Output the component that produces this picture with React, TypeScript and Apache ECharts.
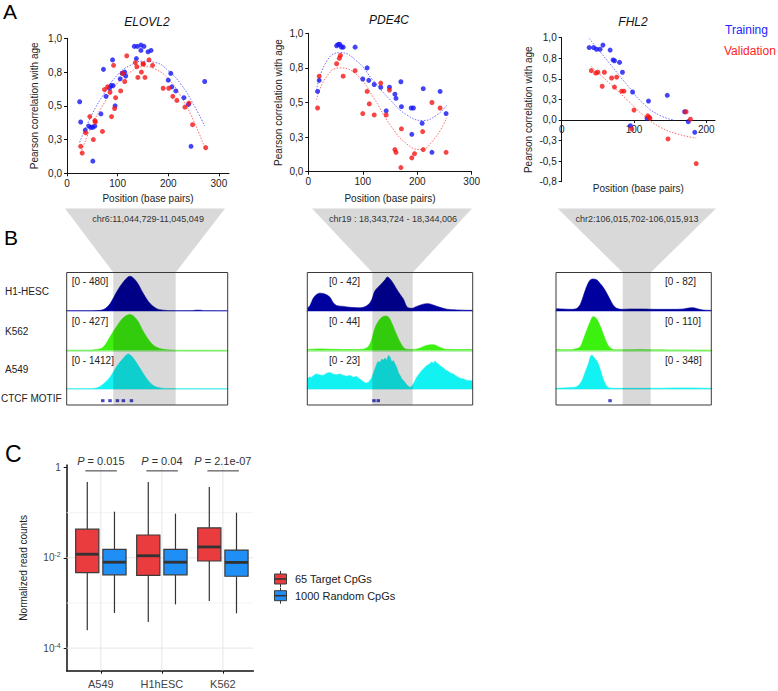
import React, { useEffect, useRef } from "react";
import * as echarts from "echarts";

const FONT = '"Liberation Sans", Arial, Helvetica, sans-serif';

// ---------------- Panel A data (position in bp, Pearson r) ----------------
const elovl2Training = [[25,0.53],[27,0.38],[36,0.32],[43,0.35],[47,0.34],[51,0.34],[55,0.35],[51,0.09],[67,0.44],[72,0.77],[77,0.57],[84,0.63],[87,0.65],[91,0.65],[90,0.84],[95,0.5],[105,0.7],[109,0.74],[114,0.75],[116,0.72],[133,0.94],[139,0.94],[146,0.95],[152,0.94],[146,0.91],[160,0.9],[166,0.91],[137,0.85],[205,0.74],[200,0.69],[207,0.64],[215,0.61],[231,0.56],[240,0.51],[245,0.2],[272,0.68]];
const elovl2Validation = [[27,0.2],[30,0.15],[37,0.3],[45,0.42],[52,0.25],[55,0.39],[56,0.38],[70,0.31],[74,0.62],[80,0.64],[85,0.6],[88,0.42],[92,0.8],[94,0.48],[96,0.56],[106,0.61],[110,0.74],[114,0.68],[118,0.87],[135,0.82],[138,0.79],[140,0.71],[147,0.75],[150,0.81],[151,0.81],[154,0.71],[162,0.84],[169,0.8],[190,0.63],[201,0.63],[209,0.57],[217,0.54],[233,0.49],[241,0.52],[248,0.36],[274,0.19]];
const elovl2TrainingFit = [[25,0.23],[50,0.44],[75,0.6],[100,0.73],[125,0.8],[150,0.83],[175,0.82],[200,0.76],[225,0.66],[250,0.51],[272,0.35]];
const elovl2ValidationFit = [[27,0.15],[50,0.36],[75,0.53],[100,0.67],[125,0.75],[150,0.79],[175,0.77],[200,0.7],[225,0.57],[250,0.39],[274,0.17]];

const pde4cTraining = [[17,0.58],[20,0.66],[52,0.91],[55,0.92],[58,0.92],[61,0.9],[64,0.9],[86,0.9],[100,0.67],[108,0.75],[111,0.66],[121,0.63],[133,0.61],[149,0.61],[159,0.56],[161,0.53],[143,0.44],[170,0.65],[171,0.47],[189,0.46],[193,0.46],[190,0.27],[209,0.35],[211,0.6],[227,0.14],[242,0.58],[253,0.42]];
const pde4cValidation = [[17,0.46],[20,0.69],[52,0.78],[57,0.82],[59,0.84],[64,0.69],[86,0.73],[100,0.42],[108,0.58],[112,0.49],[121,0.41],[133,0.64],[149,0.59],[143,0.41],[171,0.31],[159,0.16],[161,0.14],[170,0.03],[190,0.1],[195,0.13],[210,0.29],[211,0.16],[227,0.5],[242,0.46],[253,0.14]];
const pde4cTrainingFit = [[15,0.59],[34,0.8],[58,0.86],[89,0.8],[119,0.66],[150,0.52],[181,0.41],[211,0.37],[236,0.41],[254,0.48]];
const pde4cValidationFit = [[15,0.52],[34,0.69],[58,0.75],[89,0.7],[119,0.54],[150,0.34],[181,0.2],[205,0.16],[230,0.23],[254,0.39]];

const fhl2Training = [[38,0.88],[44,0.88],[48,0.86],[53,0.86],[57,0.91],[67,0.85],[71,0.73],[73,0.72],[80,0.7],[84,0.58],[98,0.34],[95,-0.07],[120,0.23],[118,0.02],[146,0.3],[170,0.1],[175,-0.02],[184,-0.15]];
const fhl2Validation = [[41,0.6],[47,0.57],[50,0.58],[56,0.41],[59,0.58],[69,0.51],[73,0.4],[76,0.52],[83,0.35],[86,0.35],[100,0.12],[97,-0.11],[119,0.05],[121,0.03],[122,0.02],[147,-0.23],[172,0.1],[178,0.01],[186,-0.53]];
const fhl2TrainingFit = [[38,0.99],[67,0.68],[91,0.42],[114,0.19],[137,0.05],[156,0.0]];
const fhl2ValidationFit = [[41,0.65],[67,0.44],[91,0.24],[114,0.05],[137,-0.09],[160,-0.17],[186,-0.22]];

const geneNames = ["ELOVL2", "PDE4C", "FHL2"];
const positionTicks = [[0, 100, 200, 300], [0, 100, 200, 300], [0, 100, 200]];
const positionMax = [320, 300, 212];
const correlationLimits = [[0, 1], [0, 1], [-0.75, 1]];

// ---------------- Panel B data (relative position in window 0-100, signal) ----------------
const cellLines = ["H1-HESC", "K562", "A549"];
const regionLabels = ["chr6:11,044,729-11,045,049", "chr19 : 18,343,724 - 18,344,006", "chr2:106,015,702-106,015,913"];
const elovl2Ranges = [480, 427, 1412];
const pde4cRanges = [42, 44, 23];
const fhl2Ranges = [82, 110, 348];

const elovl2H1 = [[0,4],[16,4],[21,8],[24,30],[27,92],[31,238],[35.2,363],[39.3,434],[43.5,363],[47.6,217],[51.8,92],[55.9,29],[60,10],[66,4],[78,4],[80,10],[83,10],[85,4],[100,3]];
const elovl2K562 = [[0,3],[12,3],[18.6,10],[22.8,37],[27,150],[31,260],[35.2,355],[39.3,390],[43.5,335],[47.6,205],[51.8,94],[55.9,34],[62,8],[70,3],[100,2]];
const elovl2A549 = [[0,6],[12,8],[18.6,40],[22.8,185],[27,440],[31,820],[35.2,1130],[38.3,1285],[41.4,1130],[45.5,760],[49.7,380],[53.8,125],[58,40],[65,10],[100,5]];
const elovl2Ctcf = [22.4, 26.9, 31.5, 35.2, 40.2];

const pde4cH1 = [[0,3],[1.6,6],[3.6,14],[5.6,18],[7.7,19.5],[10.7,18.5],[13.7,15],[15.7,9],[17.7,6],[21.8,5],[25.8,4],[30.8,3.5],[33.9,4],[36.9,7],[38.9,12],[40.9,22],[44,28],[47,34],[48.4,37],[50,35],[52,30],[55,21],[58.1,13],[60.5,4],[63.1,3],[66.1,5],[70.2,7.5],[73.2,8],[76.2,6.5],[80.2,4],[84.3,2],[90.3,1.2],[96.4,0.8],[100,0.7]];
const pde4cK562 = [[0,1.1],[7.7,1.8],[15.7,1.3],[25.8,1.1],[33.9,1.5],[36.9,4.4],[38.9,12],[40.9,25],[44,35],[47,38.3],[49,37.4],[51,31],[54,17.6],[57,6.4],[59.7,1.5],[64,1.1],[68,2.6],[72,5.7],[76.2,6.4],[80.2,3.4],[84.3,1.3],[90.3,1.1],[100,1.1]];
const pde4cA549 = [[0,6],[1.3,7.2],[2.6,6.9],[4,8.2],[5.6,9],[7.5,8.4],[9.7,8.1],[11.7,9.4],[13.7,9.9],[15.7,8.8],[17.7,8.5],[19.7,9],[21.8,8.1],[23.8,7.6],[25.8,8.1],[27.8,7],[29.8,7.4],[31.9,5.8],[33.9,4.4],[35.4,3.5],[36.9,3.9],[38.9,6.5],[40.9,12],[42,15],[42.9,16.5],[44,15.8],[45,17.9],[46,17.2],[47,18.5],[48,17],[49,20],[50,19.2],[51,16.1],[52,17],[53,15],[54,13],[55,9.9],[56,8.2],[57.1,6],[58.5,4.6],[60.1,2.5],[62.1,0.9],[63,1.5],[64.1,3],[66.1,6.9],[67.5,8.8],[69.2,11],[70.5,12.2],[72.2,14],[73.5,14.6],[75.2,16.1],[76.2,15.4],[77.2,16.8],[78.2,15.6],[79.2,14.9],[80.5,13.8],[82.3,12.6],[83.8,11.2],[85.3,10.5],[86.8,9.4],[88.3,9],[89.8,7.8],[91.3,7],[92.8,6.2],[94.4,6],[96,5.3],[97.4,5.1],[100,4.8]];
const pde4cCtcf = [40.3, 42.9];

const fhl2H1 = [[0,4.9],[4.7,4.2],[9,3.5],[12.2,4.1],[15,10.7],[17.2,27.9],[19.3,48.4],[21.5,64],[23.6,68.1],[26.2,66.4],[28.3,59],[30.5,50],[32.6,38.5],[34.8,24.6],[36.9,12.3],[39.1,5.7],[42.3,3.5],[47.6,4.2],[56.2,4.2],[64.8,3.5],[73.4,3.5],[82,4.2],[85.2,6.2],[88.4,7],[91.6,4.2],[94.8,2],[100,1.4]];
const fhl2K562 = [[0,2.8],[9,2],[12.2,4.4],[15.5,9.9],[17.6,30.8],[19.7,55],[21.9,79],[24,94.6],[26.2,88],[28.3,69.3],[30.5,45.1],[32.6,22],[34.8,7.7],[38,2],[47.6,2],[54.1,2.8],[60.5,2],[100,1]];
const fhl2A549 = [[0,6.3],[9,12.5],[13.3,20.9],[16.5,69.6],[18.7,149.6],[20.8,226.2],[22.96,306],[25.1,275],[27.3,226],[29.4,132],[31.5,52],[33.7,12.5],[36.9,6.3],[60.5,6.3],[82,9.5],[100,6.3]];
const fhl2Ctcf = [34.8];

// ---------------- Panel C data (normalized read counts) ----------------
const cellLinesC = ["A549", "H1hESC", "K562"];
const targetMin = [2.5e-4, 3.8e-4, 1.1e-3];
const targetQ1 = [4.7e-3, 4.1e-3, 8.5e-3];
const targetMedian = [1.2e-2, 1.11e-2, 1.74e-2];
const targetQ3 = [4.3e-2, 3.2e-2, 4.6e-2];
const targetMax = [0.48, 0.48, 0.37];
const randomMin = [6.0e-4, 9.3e-4, 5.9e-4];
const randomQ1 = [4.2e-3, 4.2e-3, 3.9e-3];
const randomMedian = [8.0e-3, 8.0e-3, 7.9e-3];
const randomQ3 = [1.53e-2, 1.53e-2, 1.48e-2];
const randomMax = [0.105, 0.095, 0.1];
const pValues = ["0.015", "0.04", "2.1e-07"];
const readCountTicks = [1e-4, 1e-2, 1];
const readCountMinorBreaks = [1e-3, 1e-1];

// ---------------- layout / style constants ----------------
const BLUE = "#1515f5";
const RED = "#f51515";
const trackColors = ["#00009e", "#3cf00f", "#12f2f2"];
const baselineColors = ["#a8a8e6", "#a6eea0", "#a6eeee"];
const SHADE = "rgba(0,0,0,0.15)";

function txt(x: number, y: number, text: string, o: any = {}) {
  const align = o.align || "left";
  const va = o.va || "middle";
  return {
    type: "text",
    x,
    y,
    z: o.z ?? 20,
    rotation: o.rotation || 0,
    style: {
      text,
      fill: o.fill || "#222",
      fontSize: o.fontSize || 10,
      fontFamily: FONT,
      fontStyle: o.italic ? "italic" : "normal",
      align,
      textAlign: align,
      verticalAlign: va,
      textVerticalAlign: va,
      rich: o.rich,
    },
  };
}

function buildOption() {
  const grid: any[] = [];
  const xAxis: any[] = [];
  const yAxis: any[] = [];
  const series: any[] = [];
  const graphic: any[] = [];
  const axisFont = { fontFamily: FONT, fontSize: 10, color: "#222" };

  // ---------- Panel A ----------
  const aGrids = [
    { left: 67, top: 38.3, width: 162, height: 135 },
    { left: 308.3, top: 33.3, width: 163.4, height: 138.4 },
    { left: 561.7, top: 37.7, width: 153.3, height: 144 },
  ];
  const yNameGap = [28, 25, 28];
  const xNameGap = [20, 22, 64];
  const sets = [
    [elovl2Training, elovl2Validation, elovl2TrainingFit, elovl2ValidationFit],
    [pde4cTraining, pde4cValidation, pde4cTrainingFit, pde4cValidationFit],
    [fhl2Training, fhl2Validation, fhl2TrainingFit, fhl2ValidationFit],
  ];
  aGrids.forEach((g, i) => {
    const gi = grid.length;
    grid.push({ ...g, outerBoundsMode: "none", containLabel: false });
    const [lo, hi] = correlationLimits[i];
    // place the position axis where r = 0
    const zeroOffset = lo < 0 ? -(-lo / (hi - lo)) * g.height : 0;
    xAxis.push({
      gridIndex: gi, type: "value", min: 0, max: positionMax[i], offset: zeroOffset,
      name: "Position (base pairs)", nameLocation: "middle", nameGap: xNameGap[i], nameMoveOverlap: false,
      nameTextStyle: { ...axisFont, fontSize: 10 },
      axisLine: { show: true, onZero: false, lineStyle: { color: "#111", width: 1 } },
      axisTick: { show: true, length: 3, customValues: positionTicks[i], lineStyle: { color: "#111" } },
      axisLabel: { customValues: positionTicks[i], ...axisFont, margin: 5 },
      splitLine: { show: false },
    });
    yAxis.push({
      gridIndex: gi, type: "value", min: lo, max: hi, interval: 0.25,
      name: "Pearson correlation with age", nameLocation: "middle", nameGap: yNameGap[i], nameMoveOverlap: false,
      nameTextStyle: { ...axisFont, fontSize: 10 },
      axisLine: { show: true, onZero: false, lineStyle: { color: "#111", width: 1 } },
      axisTick: { show: true, length: 3, lineStyle: { color: "#111" } },
      axisLabel: { ...axisFont, margin: 5, formatter: (v: number) => v.toFixed(1).replace(".", ",") },
      splitLine: { show: false },
    });
    const [tr, va, trFit, vaFit] = sets[i];
    series.push(
      { type: "line", name: "Training fit", xAxisIndex: gi, yAxisIndex: gi, data: trFit, smooth: true, showSymbol: false, silent: true, z: 2, lineStyle: { type: [1.5, 1.5], width: 0.9, color: "#5a5aff" } },
      { type: "line", name: "Validation fit", xAxisIndex: gi, yAxisIndex: gi, data: vaFit, smooth: true, showSymbol: false, silent: true, z: 2, lineStyle: { type: [1.5, 1.5], width: 0.9, color: "#ff5a5a" } },
      { type: "scatter", name: "Training", xAxisIndex: gi, yAxisIndex: gi, data: tr, symbolSize: 5, z: 3, itemStyle: { color: BLUE } },
      { type: "scatter", name: "Validation", xAxisIndex: gi, yAxisIndex: gi, data: va, symbolSize: 5, z: 3, itemStyle: { color: RED } },
    );
  });
  const titlePos = [[147, 22], [389, 20], [633, 22]];
  geneNames.forEach((n, i) => graphic.push(txt(titlePos[i][0], titlePos[i][1], n, { align: "center", italic: true, fontSize: 12, fill: "#111" })));
  graphic.push(txt(725, 30, "Training", { fontSize: 12, fill: "#2222ff" }));
  graphic.push(txt(724, 51, "Validation", { fontSize: 12, fill: "#ff2222" }));

  // ---------- Panel B ----------
  const boxes = [
    { left: 66.7, width: 161, shade: [113.3, 175.7], funnelTop: [65, 225], textX: 148 },
    { left: 307.3, width: 165.4, shade: [372.3, 412.7], funnelTop: [312, 472], textX: 393 },
    { left: 556, width: 155.3, shade: [622.7, 650.7], funnelTop: [557.7, 716], textX: 637 },
  ];
  const rowTop = [272.5, 311, 350.5];
  const rowBase = [311, 350.5, 389];
  const ctcfTop = 389;
  const boxBottom = 405;
  const tracks = [[elovl2H1, elovl2K562, elovl2A549], [pde4cH1, pde4cK562, pde4cA549], [fhl2H1, fhl2K562, fhl2A549]];
  const ranges = [elovl2Ranges, pde4cRanges, fhl2Ranges];
  const ctcf = [elovl2Ctcf, pde4cCtcf, fhl2Ctcf];
  const rangeLabelX = [71.7, 329, 665];
  const rangeLabelY = [281.7, 321.5, 360.5];

  boxes.forEach((b, g) => {
    for (let r = 0; r < 3; r++) {
      const gi = grid.length;
      grid.push({ left: b.left, width: b.width, top: rowTop[r], height: rowBase[r] - rowTop[r], outerBoundsMode: "none", containLabel: false });
      xAxis.push({ gridIndex: gi, type: "value", min: 0, max: 100, axisLine: { show: true, onZero: false, lineStyle: { color: baselineColors[r], width: 1.5 } }, axisTick: { show: false }, axisLabel: { show: false }, splitLine: { show: false } });
      yAxis.push({ gridIndex: gi, type: "value", min: 0, max: ranges[g][r], show: false, splitLine: { show: false } });
      series.push({
        type: "line", name: `${geneNames[g]} ${cellLines[r]}`, xAxisIndex: gi, yAxisIndex: gi, data: tracks[g][r],
        smooth: g === 1 && r === 2 ? false : 0.35, showSymbol: false, silent: true, z: 2,
        lineStyle: { color: trackColors[r], width: 0.6 }, areaStyle: { color: trackColors[r], opacity: 1 },
      });
      graphic.push(txt(rangeLabelX[g], rangeLabelY[r], `[0 - ${ranges[g][r]}]`, { fontSize: 10, fill: "#222" }));
    }
    const gi = grid.length;
    grid.push({ left: b.left, width: b.width, top: ctcfTop, height: boxBottom - ctcfTop, outerBoundsMode: "none", containLabel: false });
    xAxis.push({ gridIndex: gi, type: "value", min: 0, max: 100, show: false, splitLine: { show: false } });
    yAxis.push({ gridIndex: gi, type: "value", min: 0, max: 1, show: false, splitLine: { show: false } });
    series.push({ type: "scatter", name: `${geneNames[g]} CTCF motif`, xAxisIndex: gi, yAxisIndex: gi, data: ctcf[g].map((x) => [x, 0.27]), symbol: "rect", symbolSize: [3.5, 3], z: 3, itemStyle: { color: "#1a1ab8" } });

    // funnel, shading, border
    graphic.push({ type: "polygon", z: 10, silent: true, shape: { points: [[b.funnelTop[0], 208.5], [b.funnelTop[1], 208.5], [b.shade[1], rowTop[0]], [b.shade[0], rowTop[0]]] }, style: { fill: SHADE } });
    graphic.push({ type: "rect", z: 10, silent: true, shape: { x: b.shade[0], y: rowTop[0], width: b.shade[1] - b.shade[0], height: boxBottom - rowTop[0] }, style: { fill: SHADE } });
    graphic.push({ type: "rect", z: 11, silent: true, shape: { x: b.left, y: rowTop[0], width: b.width, height: boxBottom - rowTop[0] }, style: { fill: "transparent", stroke: "#3a3a3a", lineWidth: 1 } });
    graphic.push(txt(b.textX, 219, regionLabels[g], { align: "center", fontSize: 9, fill: "#333" }));
  });
  const rowLabelY = [291.7, 331.7, 369.7];
  cellLines.forEach((c, r) => graphic.push(txt(5, rowLabelY[r], c, { fontSize: 10 })));
  graphic.push(txt(1, 398.3, "CTCF MOTIF", { fontSize: 10 }));

  // ---------- Panel C ----------
  const gc = grid.length;
  grid.push({ left: 66.7, top: 465, width: 186.7, height: 205.7, outerBoundsMode: "none", containLabel: false });
  xAxis.push({
    gridIndex: gc, type: "value", min: 0.44, max: 3.5,
    axisLine: { show: true, onZero: false, lineStyle: { color: "#111", width: 1.5 } },
    axisTick: { show: true, length: 3, customValues: [1, 2, 3], lineStyle: { color: "#111" } },
    axisLabel: { customValues: [1, 2, 3], formatter: (v: number) => cellLinesC[Math.round(v) - 1] || "", fontFamily: FONT, fontSize: 11, color: "#444", margin: 8 },
    splitLine: { show: false },
  });
  yAxis.push({
    gridIndex: gc, type: "log", logBase: 10, min: Math.pow(10, -4.5), max: Math.pow(10, 0.055),
    name: "Normalized read counts", nameLocation: "middle", nameGap: 38, nameMoveOverlap: false,
    nameTextStyle: { fontFamily: FONT, fontSize: 10, color: "#222" },
    axisLine: { show: true, onZero: false, lineStyle: { color: "#111", width: 1.5 } },
    axisTick: { show: true, length: 3, customValues: readCountTicks, lineStyle: { color: "#111" } },
    axisLabel: {
      customValues: readCountTicks, margin: 6, fontFamily: FONT, fontSize: 10, color: "#444",
      formatter: (v: number) => { const e = Math.round(Math.log10(v)); return e === 0 ? "1" : `10{s|${e}}`; },
      rich: { s: { fontSize: 7, fontFamily: FONT, color: "#444", verticalAlign: "top", padding: [0, 0, 6, 0] } },
    },
    splitLine: { show: false },
  });
  const hLines = [...readCountTicks.filter((v) => v < 1).map((v) => [1, v, 1]), ...readCountMinorBreaks.map((v) => [1, v, 0])];
  series.push({
    type: "custom", name: "grid-h", xAxisIndex: gc, yAxisIndex: gc, silent: true, z: 1, data: hLines, encode: { x: 0, y: 1 },
    renderItem: (params: any, api: any) => {
      const cs = params.coordSys;
      const p = api.coord([api.value(0), api.value(1)]);
      return { type: "line", shape: { x1: cs.x, y1: p[1], x2: cs.x + cs.width, y2: p[1] }, style: { stroke: api.value(2) ? "#e6e6e6" : "#f0f0f0", lineWidth: api.value(2) ? 1 : 0.8 } };
    },
  });
  series.push({
    type: "custom", name: "grid-v", xAxisIndex: gc, yAxisIndex: gc, silent: true, z: 1, data: cellLinesC.map((_, i) => [i + 1, 1e-2]), encode: { x: 0, y: 1 },
    renderItem: (params: any, api: any) => {
      const cs = params.coordSys;
      const p = api.coord([api.value(0), api.value(1)]);
      return { type: "line", shape: { x1: p[0], y1: cs.y, x2: p[0], y2: cs.y + cs.height }, style: { stroke: "#e6e6e6", lineWidth: 1 } };
    },
  });
  const boxSeries = (name: string, color: string, offset: number, mn: number[], q1: number[], md: number[], q3: number[], mx: number[]) => ({
    type: "custom", name, xAxisIndex: gc, yAxisIndex: gc, z: 3,
    data: cellLinesC.map((_, i) => [i + 1, mn[i], q1[i], md[i], q3[i], mx[i]]),
    encode: { x: 0, y: [1, 2, 3, 4, 5] },
    renderItem: (params: any, api: any) => {
      const x = api.value(0);
      const c = [1, 2, 3, 4, 5].map((d) => api.coord([x, api.value(d)]));
      const cx = c[0][0] + offset;
      const hw = 11.6;
      const st = { stroke: "#333", lineWidth: 1.2 };
      return {
        type: "group",
        children: [
          { type: "line", shape: { x1: cx, y1: c[4][1], x2: cx, y2: c[3][1] }, style: st },
          { type: "line", shape: { x1: cx, y1: c[1][1], x2: cx, y2: c[0][1] }, style: st },
          { type: "rect", shape: { x: cx - hw, y: c[3][1], width: 2 * hw, height: c[1][1] - c[3][1] }, style: { fill: color, stroke: "#3a3a3a", lineWidth: 1.2 } },
          { type: "line", shape: { x1: cx - hw, y1: c[2][1], x2: cx + hw, y2: c[2][1] }, style: { stroke: "#333", lineWidth: 2.8 } },
        ],
      };
    },
  });
  series.push(boxSeries("65 Target CpGs", "#ea3b3f", -13.6, targetMin, targetQ1, targetMedian, targetQ3, targetMax));
  series.push(boxSeries("1000 Random CpGs", "#1f8ff5", 13.6, randomMin, randomQ1, randomMedian, randomQ3, randomMax));
  series.push({
    type: "custom", name: "p-values", xAxisIndex: gc, yAxisIndex: gc, silent: true, z: 4, clip: false,
    data: cellLinesC.map((_, i) => [i + 1, 1]), encode: { x: 0, y: 1 },
    renderItem: (params: any, api: any) => {
      const p = api.coord([api.value(0), api.value(1)]);
      const i = params.dataIndex;
      return {
        type: "group",
        children: [
          { type: "text", x: p[0], y: p[1] - 6, style: { text: `{i|P} = ${pValues[i]}`, fontFamily: FONT, fontSize: 11, fill: "#333", align: "center", textAlign: "center", verticalAlign: "middle", textVerticalAlign: "middle", rich: { i: { fontStyle: "italic", fontFamily: FONT, fontSize: 11, fill: "#333" } } } },
          { type: "line", shape: { x1: p[0] - 15.5, y1: p[1] + 3.4, x2: p[0] + 16, y2: p[1] + 3.4 }, style: { stroke: "#333", lineWidth: 1 } },
        ],
      };
    },
  });
  // legend C
  const legendC = [["65 Target CpGs", "#ea3b3f", 579], ["1000 Random CpGs", "#1f8ff5", 595.7]] as const;
  legendC.forEach(([label, color, cy]) => {
    graphic.push({ type: "line", z: 20, shape: { x1: 280.5, y1: cy - 8, x2: 280.5, y2: cy + 8 }, style: { stroke: "#333", lineWidth: 1 } });
    graphic.push({ type: "rect", z: 21, shape: { x: 274.5, y: cy - 5, width: 12, height: 10 }, style: { fill: color, stroke: "#3a3a3a", lineWidth: 1 } });
    graphic.push({ type: "line", z: 22, shape: { x1: 274.5, y1: cy, x2: 286.5, y2: cy }, style: { stroke: "#333", lineWidth: 1.6 } });
    graphic.push(txt(295, cy, label, { fontSize: 11, fill: "#222" }));
  });

  // panel letters
  graphic.push(txt(3, 1, "A", { fontSize: 21, va: "top", fill: "#000" }));
  graphic.push(txt(4, 227, "B", { fontSize: 21, va: "top", fill: "#000" }));
  graphic.push(txt(5, 442, "C", { fontSize: 23, va: "top", fill: "#000" }));

  return { animation: false, backgroundColor: "#fff", grid, xAxis, yAxis, series, graphic };
}

export default function App() {
  const ref = useRef<HTMLDivElement>(null);
  useEffect(() => {
    const chart = echarts.init(ref.current!, null, { renderer: "svg" });
    chart.setOption(buildOption() as any);
    return () => chart.dispose();
  }, []);
  return <div ref={ref} style={{ position: "fixed", left: 0, top: 0, width: 778, height: 691, background: "#fff" }} />;
}
